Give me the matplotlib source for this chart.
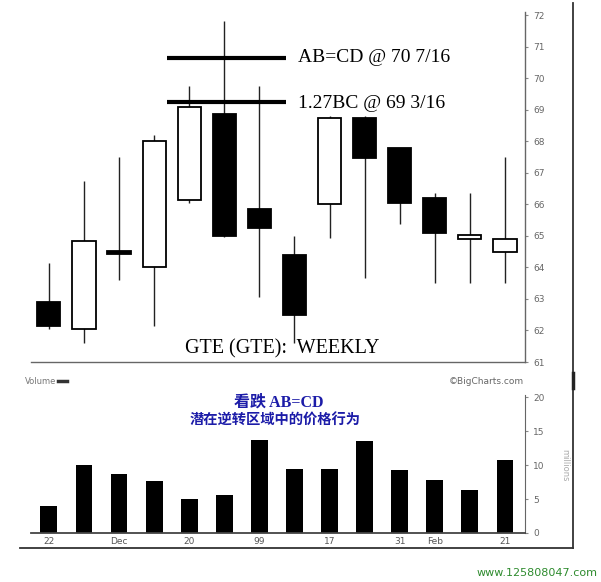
import matplotlib
matplotlib.use("Agg")
import matplotlib.pyplot as plt
from matplotlib.lines import Line2D
import numpy as np

# weekly candles
opens  = [62.90, 62.06, 64.52, 64.00, 66.13, 68.86, 65.87, 64.41, 66.03, 68.76, 67.80, 66.20, 64.90, 64.48]
highs  = [64.13, 66.76, 67.50, 68.22, 69.75, 71.84, 69.75, 65.00, 68.80, 68.80, 67.80, 66.35, 66.35, 67.52]
lows   = [62.06, 61.60, 63.60, 62.13, 66.06, 64.98, 63.05, 61.60, 64.95, 63.68, 65.37, 63.52, 63.50, 63.50]
closes = [62.15, 64.83, 64.42, 68.03, 69.08, 65.00, 65.24, 62.50, 68.76, 67.49, 66.06, 65.11, 65.02, 64.92]

volumes = [3.95, 9.98, 8.64, 7.70, 4.94, 5.53, 13.73, 9.48, 9.48, 13.58, 9.28, 7.85, 6.37, 10.81]

date_pos = [0, 2, 4, 6, 8, 10, 11, 13]
date_labels = ["22", "Dec", "20", "99", "17", "31", "Feb", "21"]

price_ticks = list(range(61, 73))
vol_ticks = [0, 5, 10, 15, 20]

abcd_level = 70.65
bc_level = 69.25

W, H = 601, 582
fig = plt.figure(figsize=(W / 100, H / 100), dpi=100)

def fx(px):
    return px / W

def fy(py):
    return (H - py) / H

# ---- price panel
ax = fig.add_axes([fx(31), fy(362), fx(525) - fx(31), fy(12) - fy(362)])
x = np.arange(len(opens))
ax.vlines(x, lows, highs, color="#222222", lw=1.0, zorder=1)
for i in range(len(opens)):
    o, c = opens[i], closes[i]
    up = c >= o
    bot = min(o, c)
    hgt = max(abs(c - o), 0.06)
    ax.bar(x[i], hgt, bottom=bot, width=0.66,
           color="white" if up else "black", edgecolor="black",
           linewidth=1.3, zorder=2)

ax.hlines([abcd_level, bc_level], 3.37, 6.77, color="black", lw=3.0, zorder=3)
ax.text(7.1, abcd_level, "AB=CD @ 70 7/16", family="Liberation Serif",
        fontsize=14, va="center", ha="left")
ax.text(7.1, bc_level - 0.03, "1.27BC @ 69 3/16", family="Liberation Serif",
        fontsize=14, va="center", ha="left")
ax.text(3.88, 61.43, "GTE (GTE):  WEEKLY", family="Liberation Serif",
        fontsize=14.5, va="center", ha="left")

ax.set_xlim(-0.51, 13.57)
ax.set_ylim(61, 72.11)
ax.set_yticks(price_ticks)
ax.yaxis.tick_right()
ax.tick_params(axis="y", length=2, color="#888888", labelsize=6.5,
               labelcolor="#666666", pad=4)
ax.set_xticks([])
for s in ["top", "left"]:
    ax.spines[s].set_visible(False)
ax.spines["right"].set_color("#666666")
ax.spines["bottom"].set_color("#666666")
ax.spines["right"].set_linewidth(1.0)
ax.spines["bottom"].set_linewidth(1.0)

# ---- volume panel
vax = fig.add_axes([fx(31), fy(533), fx(525) - fx(31), fy(395) - fy(533)])
vax.bar(x, volumes, width=0.48, color="black", zorder=2)
vax.set_xlim(-0.51, 13.57)
vax.set_ylim(0, 20.3)
vax.set_yticks(vol_ticks)
vax.yaxis.tick_right()
vax.tick_params(axis="y", length=2, color="#888888", labelsize=6.5,
                labelcolor="#666666", pad=4)
vax.set_xticks(date_pos)
vax.set_xticklabels(date_labels)
vax.tick_params(axis="x", length=0, labelsize=6.5, labelcolor="#555555", pad=3)
for s in ["top", "left"]:
    vax.spines[s].set_visible(False)
vax.spines["right"].set_color("#666666")
vax.spines["bottom"].set_color("#444444")
vax.spines["bottom"].set_linewidth(1.3)

fig.text(fx(565), fy(465), "millions", rotation=270, fontsize=6,
         color="#aaaaaa", ha="center", va="center")
fig.text(fx(25), fy(381), "Volume", fontsize=6, color="#777777",
         ha="left", va="center")
fig.add_artist(Line2D([fx(58), fx(67)], [fy(381), fy(381)], color="#333333", lw=2.5))
fig.text(fx(524), fy(381), "\u00a9BigCharts.com", fontsize=6.5, color="#666666",
         ha="right", va="center")

fig.text(fx(279), fy(403), "看跌 AB=CD", family=["Liberation Serif", "Noto Sans CJK SC"],
         fontsize=11.5, fontweight="bold", color="#1c1ca8", ha="center", va="center")
fig.text(fx(275), fy(421), "潜在逆转区域中的价格行为", family=["Noto Sans CJK SC"],
         fontsize=10.3, fontweight="bold", color="#1c1ca8", ha="center", va="center")

# outer frame
fig.add_artist(Line2D([fx(20), fx(573)], [fy(548), fy(548)], color="#333333", lw=1.3))
fig.add_artist(Line2D([fx(573), fx(573)], [fy(3), fy(548)], color="#333333", lw=1.3))
fig.add_artist(Line2D([fx(573), fx(573)], [fy(373), fy(388)], color="#222222", lw=2.5))

fig.text(fx(598), fy(573), "www.125808047.com", fontsize=8, color="#2e8b2e",
         ha="right", va="center")

fig.savefig("out.png", dpi=100, facecolor="white")
